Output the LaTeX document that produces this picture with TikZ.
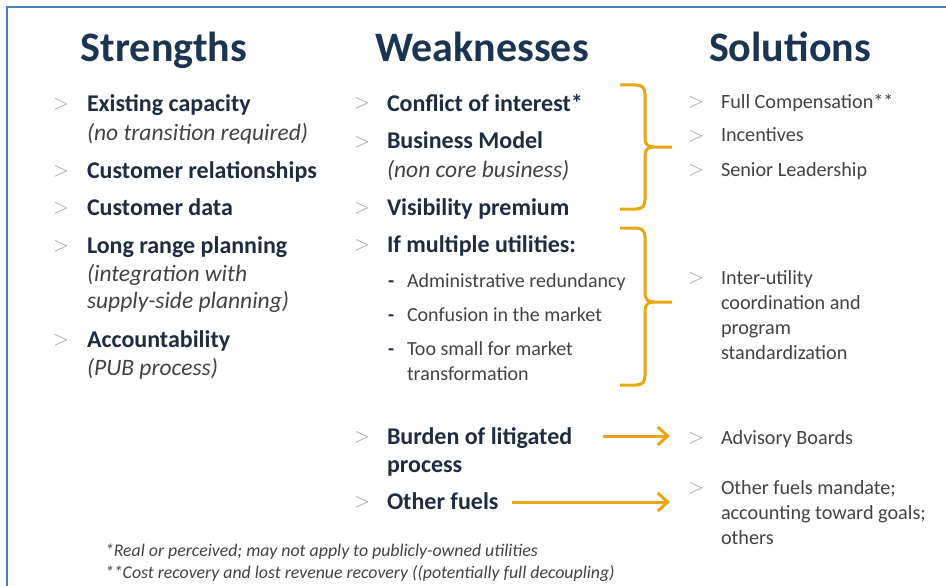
\documentclass[tikz,border=0pt]{standalone}
\usepackage{fontspec}
\setmainfont{Carlito}
\usetikzlibrary{arrows.meta}
\definecolor{frameblue}{RGB}{74,126,187}
\definecolor{headnavy}{RGB}{27,52,82}
\definecolor{itemnavy}{RGB}{30,44,64}
\definecolor{softgray}{RGB}{66,66,66}
\definecolor{chevgray}{RGB}{160,160,160}
\definecolor{gold}{RGB}{231,166,18}
\begin{document}
\begin{tikzpicture}[x=1pt,y=-1pt,
  every node/.style={inner sep=0pt, outer sep=0pt, anchor=base west},
  head/.style={anchor=base, font=\fontsize{42}{42}\selectfont\bfseries, text=headnavy},
  strong/.style={font=\fontsize{24}{28}\selectfont\bfseries, text=itemnavy},
  note/.style={font=\fontsize{23.5}{28}\selectfont\itshape, text=softgray},
  plain/.style={font=\fontsize{20.2}{25}\selectfont, text=softgray},
  sub/.style={font=\fontsize{20}{25}\selectfont, text=softgray},
  dashmark/.style={font=\fontsize{20}{25}\selectfont\bfseries, text=itemnavy},
  chev/.style={font=\fontsize{21}{21}\selectfont, text=chevgray},
  foot/.style={font=\fontsize{17.8}{20}\selectfont\itshape, text=softgray},
  goldline/.style={draw=gold, line width=3pt},
  goldarrow/.style={draw=gold, line width=3pt, -{Straight Barb[length=10pt,width=18pt]}},
]
\useasboundingbox (0,0) rectangle (946,586);

% frame
\draw[frameblue, line width=2.5pt] (7,586) -- (7,7) -- (946,7);

% column headings
\node[head] (hStr) at (164,62) {Strengths};
\node[head] (hWeak) at (482,62) {Weaknesses};
\node[head] (hSol) at (790,62) {Solutions};

% strengths
\node[chev] (sc1) at (53,110) {$>$};
\node[strong] (s1) at (87,112) {Existing capacity};
\node[note] (s1n) at (87,140) {(no transition required)};
\node[chev] (sc2) at (53,176) {$>$};
\node[strong] (s2) at (87,178) {Customer relationships};
\node[chev] (sc3) at (53,213) {$>$};
\node[strong] (s3) at (87,215) {Customer data};
\node[chev] (sc4) at (53,251) {$>$};
\node[strong] (s4) at (87,253) {Long range planning};
\node[note] (s4n) at (87,281) {(integration with};
\node[note] (s4m) at (87,308) {supply-side planning)};
\node[chev] (sc5) at (53,345) {$>$};
\node[strong] (s5) at (87,347) {Accountability};
\node[note] (s5n) at (87,375) {(PUB process)};

% weaknesses
\node[chev] (wc1) at (354,109) {$>$};
\node[strong] (w1) at (387,111) {Conflict of interest*};
\node[chev] (wc2) at (354,147) {$>$};
\node[strong] (w2) at (387,149) {Business Model};
\node[note] (w2n) at (387,177) {(non core business)};
\node[chev] (wc3) at (354,213) {$>$};
\node[strong] (w3) at (387,215) {Visibility premium};
\node[chev] (wc4) at (354,250) {$>$};
\node[strong] (w4) at (387,252) {If multiple utilities:};
\node[dashmark] (wd1) at (388,287) {-};
\node[sub] (w4a) at (407,287) {Administrative redundancy};
\node[dashmark] (wd2) at (388,321) {-};
\node[sub] (w4b) at (407,321) {Confusion in the market};
\node[dashmark] (wd3) at (388,355) {-};
\node[sub] (w4c) at (407,355) {Too small for market};
\node[sub] (w4d) at (407,380) {transformation};
\node[chev] (wc5) at (354,442) {$>$};
\node[strong] (w5) at (387,444) {Burden of litigated};
\node[strong] (w5b) at (387,472) {process};
\node[chev] (wc6) at (354,507) {$>$};
\node[strong] (w6) at (387,509) {Other fuels};

% solutions
\node[chev] (oc1) at (688,107) {$>$};
\node[plain] (o1) at (721,108) {Full Compensation**};
\node[chev] (oc2) at (688,141) {$>$};
\node[plain] (o2) at (721,142) {Incentives};
\node[chev] (oc3) at (688,175) {$>$};
\node[plain] (o3) at (721,176) {Senior Leadership};
\node[chev] (oc4) at (688,283) {$>$};
\node[plain] (o4) at (721,284) {Inter-utility};
\node[plain] (o4b) at (721,309) {coordination and};
\node[plain] (o4c) at (721,334) {program};
\node[plain] (o4d) at (721,359) {standardization};
\node[chev] (oc5) at (688,443) {$>$};
\node[plain] (o5) at (721,444) {Advisory Boards};
\node[chev] (oc6) at (688,493) {$>$};
\node[plain] (o6) at (721,494) {Other fuels mandate;};
\node[plain] (o6b) at (721,519) {accounting toward goals;};
\node[plain] (o6c) at (721,544) {others};

% braces grouping weaknesses
\draw[goldline] (620,85) -- (636,85) .. controls (642,85) and (645,88) .. (645,94)
  -- (645,139) .. controls (645,144) and (648,147) .. (654,147) -- (672,147);
\draw[goldline] (654,147) .. controls (648,147) and (645,150) .. (645,155)
  -- (645,200) .. controls (645,206) and (642,209) .. (636,209) -- (620,209);
\draw[goldline] (620,228) -- (636,228) .. controls (642,228) and (645,231) .. (645,237)
  -- (645,294) .. controls (645,299) and (648,302) .. (654,302) -- (672,302);
\draw[goldline] (654,302) .. controls (648,302) and (645,305) .. (645,310)
  -- (645,376) .. controls (645,382) and (642,385) .. (636,385) -- (620,385);

% arrows
\coordinate (aFrom) at (603,436);
\coordinate (aTo) at (670,436);
\coordinate (bFrom) at (512,502);
\coordinate (bTo) at (670,502);
\draw[goldarrow] (aFrom) -- (aTo);
\draw[goldarrow] (bFrom) -- (bTo);

% footnotes
\node[foot] (f1) at (105,556) {*Real or perceived; may not apply to publicly-owned utilities};
\node[foot] (f2) at (105,578) {**Cost recovery and lost revenue recovery ((potentially full decoupling)};
\end{tikzpicture}
\end{document}
